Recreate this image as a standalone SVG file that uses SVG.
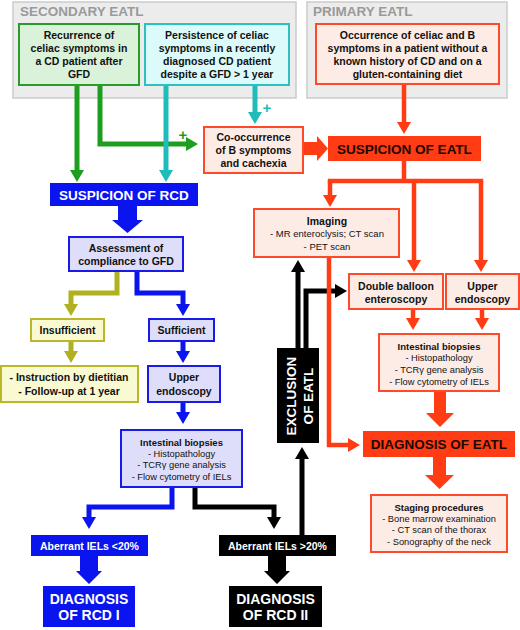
<svg xmlns="http://www.w3.org/2000/svg" width="520" height="630" viewBox="0 0 520 630">
<defs>
<style>
text{font-family:"Liberation Sans",Arial,sans-serif;fill:#111;text-anchor:middle}
.b{font-weight:bold;font-size:10.5px}
.s{font-size:9.3px}
.sb{font-weight:bold;font-size:9.5px}
.big{font-weight:bold;font-size:13.5px}
.w{fill:#fff}
.title{font-weight:bold;font-size:13.5px;fill:#9a9a9a;text-anchor:start}
.grey{fill:#ececec;stroke:#cbcbcb;stroke-width:1.5}
.green{fill:#d9f2d9;stroke:#2a9a2a;stroke-width:2}
.cyan{fill:#dcfafa;stroke:#2cc0c0;stroke-width:2}
.red{fill:#fdece6;stroke:#ff4a2a;stroke-width:2}
.redf{fill:#ff3c14}
.blue{fill:#dedefa;stroke:#1a1ae6;stroke-width:2}
.bluef{fill:#0a14ee}
.olive{fill:#fafad2;stroke:#b8b828;stroke-width:2}
.blk{fill:#000}
.c{fill:none;stroke-width:5}
.cg{stroke:#1e9e1e}
.cc{stroke:#1fbcbc}
.cr{stroke:#ff3c14;stroke-width:4.5}
.ck{stroke:#000}
.cb{stroke:#0a14ee}
.co{stroke:#b0b020}
</style>
<marker id="ag" viewBox="0 0 12 14" refX="6" refY="7" markerWidth="12" markerHeight="14" markerUnits="userSpaceOnUse" orient="auto"><path d="M0,0L12,7L0,14z" fill="#1e9e1e"/></marker>
<marker id="ac" viewBox="0 0 12 14" refX="6" refY="7" markerWidth="12" markerHeight="14" markerUnits="userSpaceOnUse" orient="auto"><path d="M0,0L12,7L0,14z" fill="#1fbcbc"/></marker>
<marker id="ar" viewBox="0 0 12 14" refX="6" refY="7" markerWidth="12" markerHeight="14" markerUnits="userSpaceOnUse" orient="auto"><path d="M0,0L12,7L0,14z" fill="#ff3c14"/></marker>
<marker id="ak" viewBox="0 0 12 14" refX="6" refY="7" markerWidth="12" markerHeight="14" markerUnits="userSpaceOnUse" orient="auto"><path d="M0,0L12,7L0,14z" fill="#000"/></marker>
<marker id="ab" viewBox="0 0 12 14" refX="6" refY="7" markerWidth="12" markerHeight="14" markerUnits="userSpaceOnUse" orient="auto"><path d="M0,0L12,7L0,14z" fill="#0a14ee"/></marker>
<marker id="ao" viewBox="0 0 12 14" refX="6" refY="7" markerWidth="12" markerHeight="14" markerUnits="userSpaceOnUse" orient="auto"><path d="M0,0L12,7L0,14z" fill="#b0b020"/></marker>
</defs>
<rect width="520" height="630" fill="#fff"/>

<g id="secondary-eatl">
<rect class="grey" x="13" y="2" width="283" height="96"/>
<text class="title" x="20" y="16">SECONDARY EATL</text>
</g>
<g id="primary-eatl">
<rect class="grey" x="307" y="2" width="200" height="96"/>
<text class="title" x="313" y="16">PRIMARY EATL</text>
</g>

<g id="connectors">
<path class="c cg" d="M77,85V176" marker-end="url(#ag)"/>
<path class="c cg" d="M100,85V144H192" marker-end="url(#ag)"/>
<path class="c cc" d="M166,85V176" marker-end="url(#ac)"/>
<path class="c cc" d="M255,85V118" marker-end="url(#ac)"/>
<path class="c ck" d="M298,348V266" marker-end="url(#ak)"/>
<path class="c ck" d="M306,348V291H341" marker-end="url(#ak)"/>
<path class="c ck" d="M302,535V453" marker-end="url(#ak)"/>
<path class="c ck" d="M195,487V507H274V523" marker-end="url(#ak)"/>
<path class="c cr" d="M404,84V128" marker-end="url(#ar)"/>
<polygon class="redf" points="303,142 317,142 317,136 328,148.5 317,161 317,155 303,155"/>
<path class="c cr" d="M404,161V181"/>
<path class="c cr" d="M327.8,181H483.2"/>
<path class="c cr" d="M330,181V201" marker-end="url(#ar)"/>
<path class="c cr" d="M414,181V266" marker-end="url(#ar)"/>
<path class="c cr" d="M481,181V266" marker-end="url(#ar)"/>
<path class="c cr" d="M413,309V324" marker-end="url(#ar)"/>
<path class="c cr" d="M482,309V324" marker-end="url(#ar)"/>
<path class="c cr" d="M329,257V445H354" marker-end="url(#ar)"/>
<polygon class="redf" points="434,391 446,391 446,413 454,413 440,427 426,413 434,413"/>
<polygon class="redf" points="433,457 446,457 446,475 454,475 439.5,489 425,475 433,475"/>
<path class="c cb" d="M172,487V507H89V523" marker-end="url(#ab)"/>
<polygon class="bluef" points="80,556 98,556 98,571 102,571 89,584 76,571 80,571"/>
<polygon class="blk" points="268,556 286,556 286,571 290,571 277,584 264,571 268,571"/>
<polygon class="bluef" points="118,206 137,206 137,220 143,220 127.5,233 112,220 118,220"/>
<path class="c co" d="M117,271V293H71V310" marker-end="url(#ao)"/>
<path class="c cb" d="M137,271V293H183V310" marker-end="url(#ab)"/>
<path class="c co" d="M71,341V357" marker-end="url(#ao)"/>
<path class="c cb" d="M183,341V357" marker-end="url(#ab)"/>
<path class="c cb" d="M183,402V418" marker-end="url(#ab)"/>
<text x="183" y="140" style="font-weight:bold;font-size:15px;fill:#1e9e1e">+</text>
<text x="267" y="113" style="font-weight:bold;font-size:15px;fill:#1fbcbc">+</text>
</g>

<g id="recurrence">
<rect class="green" x="19" y="24" width="120" height="61"/>
<text class="b" x="79" y="39">Recurrence of</text>
<text class="b" x="79" y="52">celiac symptoms in</text>
<text class="b" x="79" y="65">a CD patient after</text>
<text class="b" x="79" y="78">GFD</text>
</g>
<g id="persistence">
<rect class="cyan" x="145" y="24" width="144" height="61"/>
<text class="b" x="217" y="39">Persistence of celiac</text>
<text class="b" x="217" y="52">symptoms in a recently</text>
<text class="b" x="217" y="65">diagnosed CD patient</text>
<text class="b" x="217" y="78">despite a GFD &gt; 1 year</text>
</g>
<g id="occurrence">
<rect class="red" x="316" y="24" width="183" height="60"/>
<text class="b" x="407.5" y="39">Occurrence of celiac and B</text>
<text class="b" x="407.5" y="52">symptoms in a patient without a</text>
<text class="b" x="407.5" y="65">known history of CD and on a</text>
<text class="b" x="407.5" y="78">gluten-containing diet</text>
</g>
<g id="cooccurrence">
<rect class="red" x="204" y="127" width="99" height="46"/>
<text class="b" x="253.5" y="141">Co-occurrence</text>
<text class="b" x="253.5" y="154">of B symptoms</text>
<text class="b" x="253.5" y="167">and cachexia</text>
</g>
<g id="suspicion-eatl">
<rect class="redf" x="328" y="136" width="153" height="25"/>
<text class="big" x="404.5" y="153.5" style="fill:#1a0800">SUSPICION OF EATL</text>
</g>
<g id="suspicion-rcd">
<rect class="bluef" x="50" y="183" width="148" height="23"/>
<text class="big w" x="124" y="199.5">SUSPICION OF RCD</text>
</g>
<g id="imaging">
<rect class="red" x="254" y="209" width="145" height="48"/>
<text class="b" x="327" y="225">Imaging</text>
<text x="327" y="236.5" style="font-size:9.5px">- MR enteroclysis; CT scan</text>
<text x="327" y="249.5" style="font-size:9.5px">- PET scan</text>
</g>
<g id="double-balloon">
<rect class="red" x="349" y="274" width="94" height="35"/>
<text class="b" x="396" y="290">Double balloon</text>
<text class="b" x="396" y="302.5">enteroscopy</text>
</g>
<g id="upper-endoscopy-eatl">
<rect class="red" x="446" y="274" width="73" height="35"/>
<text class="b" x="482.5" y="290">Upper</text>
<text class="b" x="482.5" y="302.5">endoscopy</text>
</g>
<g id="biopsies-eatl">
<rect class="red" x="379" y="334" width="120" height="57"/>
<text class="sb" x="439" y="349.5">Intestinal biopsies</text>
<text class="s" x="439" y="360.5">- Histopathology</text>
<text class="s" x="439" y="372.5">- TCRγ gene analysis</text>
<text class="s" x="439" y="384.5">- Flow cytometry of IELs</text>
</g>
<g id="diagnosis-eatl">
<rect class="redf" x="363" y="431" width="152" height="26"/>
<text class="big" x="439" y="449" style="fill:#1a0800">DIAGNOSIS OF EATL</text>
</g>
<g id="staging">
<rect class="red" x="371" y="495" width="136" height="57"/>
<text class="sb" x="439" y="510.5">Staging procedures</text>
<text class="s" x="439" y="521.5">- Bone marrow examination</text>
<text class="s" x="439" y="532.5">- CT scan of the thorax</text>
<text class="s" x="439" y="544.5">- Sonography of the neck</text>
</g>
<g id="exclusion">
<rect class="blk" x="277" y="348" width="42" height="95"/>
<text class="big w" x="296" y="396" transform="rotate(-90 296 396)">EXCLUSION</text>
<text class="big w" x="313" y="396" transform="rotate(-90 313 396)">OF EATL</text>
</g>
<g id="assessment">
<rect class="blue" x="69" y="237" width="114" height="34"/>
<text class="b" x="126" y="252">Assessment of</text>
<text class="b" x="126" y="265">compliance to GFD</text>
</g>
<g id="insufficient">
<rect class="olive" x="31" y="319" width="73" height="22"/>
<text class="b" x="67.5" y="334">Insufficient</text>
</g>
<g id="sufficient">
<rect class="blue" x="149" y="319" width="65" height="22"/>
<text class="b" x="181.5" y="334">Sufficient</text>
</g>
<g id="instruction">
<rect class="olive" x="1" y="366" width="137" height="36"/>
<text class="b" x="69" y="381">- Instruction by dietitian</text>
<text class="b" x="69" y="395">- Follow-up at 1 year</text>
</g>
<g id="upper-endoscopy-rcd">
<rect class="blue" x="148" y="366" width="72" height="36"/>
<text class="b" x="184" y="381">Upper</text>
<text class="b" x="184" y="395">endoscopy</text>
</g>
<g id="biopsies-rcd">
<rect class="blue" x="121" y="430" width="121" height="57"/>
<text class="sb" x="181.5" y="445.5">Intestinal biopsies</text>
<text class="s" x="181.5" y="456.5">- Histopathology</text>
<text class="s" x="181.5" y="467.5">- TCRγ gene analysis</text>
<text class="s" x="181.5" y="479.5">- Flow cytometry of IELs</text>
</g>
<g id="aberrant-low">
<rect class="bluef" x="31" y="535" width="117" height="21"/>
<text class="b w" x="89.5" y="549.5">Aberrant IELs &lt;20%</text>
</g>
<g id="aberrant-high">
<rect class="blk" x="219" y="535" width="117" height="21"/>
<text class="b w" x="277.5" y="549.5">Aberrant IELs &gt;20%</text>
</g>
<g id="diagnosis-rcd1">
<rect class="bluef" x="43" y="586" width="92" height="41"/>
<text class="w" x="89" y="604" style="font-weight:bold;font-size:14px">DIAGNOSIS</text>
<text class="w" x="89" y="620" style="font-weight:bold;font-size:14px">OF RCD I</text>
</g>
<g id="diagnosis-rcd2">
<rect class="blk" x="229" y="586" width="93" height="41"/>
<text class="w" x="275.5" y="604" style="font-weight:bold;font-size:14px">DIAGNOSIS</text>
<text class="w" x="275.5" y="620" style="font-weight:bold;font-size:14px">OF RCD II</text>
</g>
</svg>
